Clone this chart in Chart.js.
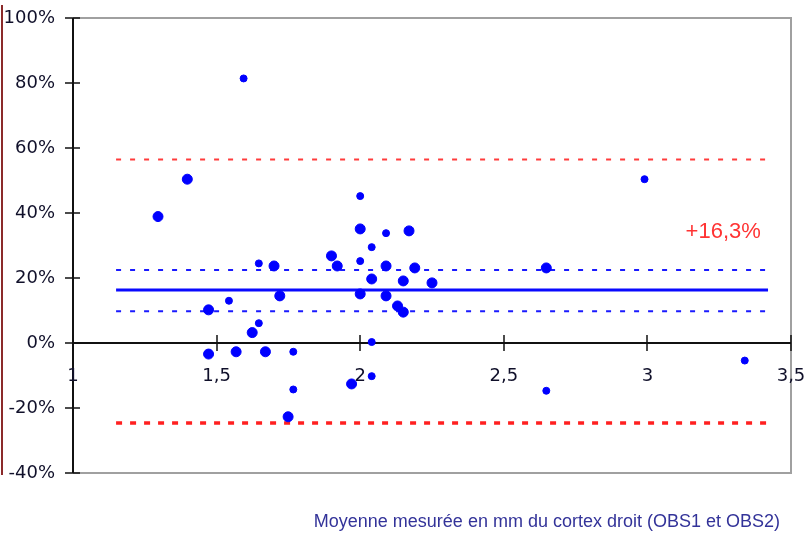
<!DOCTYPE html>
<html>
<head>
<meta charset="utf-8">
<script src="https://cdn.jsdelivr.net/npm/chart.js@4/dist/chart.umd.min.js"></script>
<style>
  html, body { margin: 0; padding: 0; background: #ffffff; }
  #wrap { width: 811px; height: 541px; }
</style>
</head>
<body>
<div id="wrap"><canvas id="c" width="811" height="541"></canvas></div>
<script>
// Bland-Altman: mean of the two observers (mm) vs relative difference (%)
const bigMeanMm = [2.00, 2.17, 1.90, 1.92, 2.09, 2.19, 2.04, 2.15, 2.25, 2.00, 2.09, 2.13, 2.15, 1.97,
                   1.398, 1.296, 1.70, 1.72, 1.472, 1.624, 1.472, 1.568, 1.67, 1.749, 2.648];
const bigDiffPct = [35.1, 34.5, 26.8, 23.7, 23.7, 23.1, 19.7, 19.1, 18.5, 15.1, 14.5, 11.4, 9.5, -12.6,
                    50.4, 38.9, 23.7, 14.5, 10.2, 3.2, -3.4, -2.7, -2.7, -22.7, 23.1];
const smallMeanMm = [2.00, 2.09, 2.04, 2.00, 2.04, 2.04, 1.594, 1.647, 1.543, 1.647, 1.767, 1.767, 2.99, 2.648, 3.339];
const smallDiffPct = [45.2, 33.8, 29.5, 25.2, 0.3, -10.2, 81.4, 24.5, 13.0, 6.1, -2.7, -14.3, 50.4, -14.7, -5.4];

// Reference lines: mean bias, its confidence band, limits of agreement
const meanBias = 16.3;
const biasCI = [9.8, 22.5];
const agreementLimits = [-24.6, 56.5];
const lineSpan = [1.15, 3.42];

// Axis ticks
const xTicks = [1, 1.5, 2, 2.5, 3, 3.5];
const yTicks = [-40, -20, 0, 20, 40, 60, 80, 100];

const xTitle = 'Moyenne mesurée en mm du cortex droit (OBS1 et OBS2)';
const biasLabel = '+' + meanBias.toFixed(1).replace('.', ',') + '%';

const pts = (xs, ys) => xs.map((x, i) => ({ x: x, y: ys[i] }));
const hLine = (v) => [{ x: lineSpan[0], y: v }, { x: lineSpan[1], y: v }];

const refLine = (v, color, width, dash) => ({
  type: 'line', data: hLine(v), borderColor: color, borderWidth: width,
  borderDash: dash, pointRadius: 0, fill: false, order: 2
});

// scales keep no extra padding of their own; the layout padding sets the plot box
const noScalePadding = (s) => {
  s.paddingTop = 0; s.paddingBottom = 0; s.paddingLeft = 0; s.paddingRight = 0;
};

const axesPlugin = {
  id: 'axesPlugin',
  beforeDraw(chart) {
    const { ctx, chartArea: a, scales: { x, y } } = chart;
    ctx.save();
    // frame of the plotting area
    ctx.strokeStyle = '#a0a0a0';
    ctx.lineWidth = 2;
    ctx.beginPath();
    ctx.moveTo(a.left, a.top); ctx.lineTo(a.right, a.top);
    ctx.lineTo(a.right, a.bottom); ctx.lineTo(a.left, a.bottom);
    ctx.stroke();
    // outer chart border on the left
    ctx.strokeStyle = '#8b2a2a';
    ctx.beginPath(); ctx.moveTo(2, 5); ctx.lineTo(2, 475); ctx.stroke();
    // y axis with crossing tick marks
    ctx.strokeStyle = '#111111';
    ctx.lineWidth = 2;
    ctx.beginPath(); ctx.moveTo(a.left, a.top); ctx.lineTo(a.left, a.bottom); ctx.stroke();
    ctx.lineWidth = 1.5;
    yTicks.forEach(v => {
      const py = Math.round(y.getPixelForValue(v));
      ctx.beginPath(); ctx.moveTo(a.left - 8, py); ctx.lineTo(a.left + 7, py); ctx.stroke();
    });
    // x axis through 0 with crossing tick marks
    const y0 = Math.round(y.getPixelForValue(0));
    ctx.lineWidth = 2;
    ctx.beginPath(); ctx.moveTo(a.left, y0); ctx.lineTo(a.right, y0); ctx.stroke();
    ctx.lineWidth = 1.5;
    xTicks.forEach(v => {
      const px = Math.round(x.getPixelForValue(v));
      ctx.beginPath(); ctx.moveTo(px, y0 - 8); ctx.lineTo(px, y0 + 8); ctx.stroke();
    });
    ctx.restore();
  },
  afterDraw(chart) {
    const { ctx, scales: { x, y } } = chart;
    ctx.save();
    ctx.fillStyle = '#ff3333';
    ctx.font = '22px "Liberation Sans", Arial, sans-serif';
    ctx.textAlign = 'center';
    ctx.textBaseline = 'middle';
    ctx.fillText(biasLabel, x.getPixelForValue(3.264), y.getPixelForValue(34.2));
    ctx.fillStyle = '#333399';
    ctx.font = '18px "Liberation Sans", Arial, sans-serif';
    ctx.textAlign = 'right';
    ctx.fillText(xTitle, 780, 522);
    ctx.restore();
  }
};

new Chart(document.getElementById('c'), {
  type: 'scatter',
  data: {
    datasets: [
      refLine(agreementLimits[1], '#ff3b3b', 2, [5, 9]),
      refLine(agreementLimits[0], '#ff2020', 3.5, [6, 8]),
      refLine(biasCI[1], '#1a1aff', 2, [5, 9]),
      refLine(biasCI[0], '#1a1aff', 2, [5, 9]),
      refLine(meanBias, '#0a0aff', 3, []),
      { data: pts(bigMeanMm, bigDiffPct), backgroundColor: '#0000ff', borderColor: '#0000ff',
        pointRadius: 5, pointHoverRadius: 5, order: 1 },
      { data: pts(smallMeanMm, smallDiffPct), backgroundColor: '#0000ff', borderColor: '#0000ff',
        pointRadius: 3.5, pointHoverRadius: 3.5, order: 1 }
    ]
  },
  options: {
    responsive: false,
    animation: false,
    events: [],
    layout: { padding: { left: 0, top: 18, right: 20, bottom: 68 } },
    plugins: { legend: { display: false }, tooltip: { enabled: false } },
    scales: {
      x: {
        type: 'linear', min: 1, max: 3.5,
        position: { y: 0 },
        grid: { display: false, drawTicks: false },
        border: { display: false },
        afterFit: noScalePadding,
        afterBuildTicks: (s) => { s.ticks = xTicks.map(v => ({ value: v })); },
        ticks: {
          padding: 23, maxRotation: 0, autoSkip: false,
          color: '#10102a',
          font: { family: '"DejaVu Sans", sans-serif', size: 18 },
          callback: (v) => String(v).replace('.', ',')
        }
      },
      y: {
        type: 'linear', min: -40, max: 100,
        position: 'left',
        grid: { display: false, drawTicks: false },
        border: { display: false },
        afterFit: (s) => { s.width = 73; noScalePadding(s); },
        afterBuildTicks: (s) => { s.ticks = yTicks.map(v => ({ value: v })); },
        ticks: {
          padding: 18, autoSkip: false,
          color: '#10102a',
          font: { family: '"DejaVu Sans", sans-serif', size: 18 },
          callback: (v) => v + '%'
        }
      }
    }
  },
  plugins: [axesPlugin]
});
</script>
</body>
</html>
